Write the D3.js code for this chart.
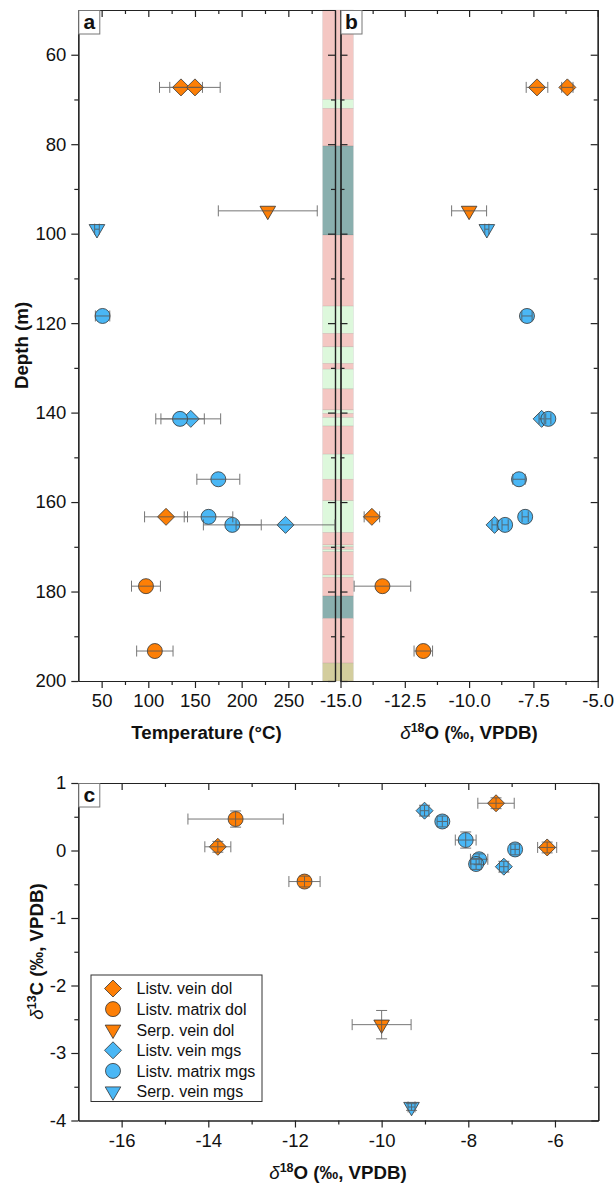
<!DOCTYPE html>
<html>
<head>
<meta charset="utf-8">
<script src="https://cdn.jsdelivr.net/npm/d3@7"></script>
<style>
  body { margin: 0; background: #fff; }
  svg text { font-family: "Liberation Sans", Arial, sans-serif; fill: #111; }
</style>
</head>
<body>
<div class="chart"></div>
<script>
// ---- data ----
var typeNames = ["Listv. vein dol", "Listv. matrix dol", "Serp. vein dol",
                 "Listv. vein mgs", "Listv. matrix mgs", "Serp. vein mgs"];
var typeColor = ["orange", "orange", "orange", "blue", "blue", "blue"];
var typeShape = ["diamond", "circle", "triangle", "diamond", "circle", "triangle"];

// one entry per sample
var sampleType = [0, 0, 0, 1, 1, 2, 5, 3, 3, 4, 4, 4, 4, 4];
var depth      = [67.3, 67.3, 163.3, 178.8, 193.3, 94.9, 99.0, 141.4, 165.1, 118.4, 141.4, 154.9, 163.3, 165.1];
var d18O       = [-7.36, -6.18, -13.78, -13.37, -11.78, -10.0, -9.31, -7.18, -9.01, -7.75, -6.92, -8.06, -7.82, -8.60];
var d18Oerr    = [0.42, 0.22, 0.30, 1.10, 0.36, 0.68, 0.08, 0.10, 0.10, 0.20, 0.10, 0.24, 0.12, 0.12];
var d13C       = [0.70, 0.045, 0.055, 0.466, -0.46, -2.58, -3.80, -0.24, 0.59, -0.13, 0.016, 0.155, -0.20, 0.43];
var d13Cerr    = [0.08, 0.08, 0.08, 0.12, 0.08, 0.21, 0.05, 0.08, 0.08, 0.08, 0.08, 0.12, 0.08, 0.08];
var temp       = [135, 150, 119, 97.5, 107, 228, 45, 145.5, 247, 51, 134, 175, 164.5, 190];
var tempErr    = [23, 27, 23, 15.5, 19.5, 53, 2.5, 32, 53, 7.7, 26, 23, 26, 31];

// lithology column (depth intervals)
var lithoTop  = [50, 70, 72, 80.4, 100.3, 116.2, 122.3, 125.3, 129, 130.3, 134.7, 139.4, 140.2, 141.1, 143, 149.3, 154.9, 159.7, 166.8, 169.6, 170, 170.6, 171.1, 176.3, 176.8, 181, 186, 196];
var lithoBase = [70, 72, 80.4, 100.3, 116.2, 122.3, 125.3, 129, 130.3, 134.7, 139.4, 140.2, 141.1, 143, 149.3, 154.9, 159.7, 166.8, 169.6, 170, 170.6, 171.1, 176.3, 176.8, 181, 186, 196, 200];
var lithoType = ["pink", "green", "pink", "teal", "pink", "green", "pink", "green", "pink", "green", "pink", "green", "pink", "green", "pink", "green", "pink", "green", "pink", "green", "pink", "green", "pink", "green", "pink", "teal", "pink", "olive"];

// ticks
var depthTicks = [60, 80, 100, 120, 140, 160, 180, 200];
var depthMinor = [70, 90, 110, 130, 150, 170, 190];
var tempTicks = [50, 100, 150, 200, 250];
var tempMinor = [75, 125, 175, 225, 275];
var oTicksB = [-15, -12.5, -10, -7.5, -5];
var oMinorB = [-13.75, -11.25, -8.75, -6.25];
var oTicksC = [-16, -14, -12, -10, -8, -6];
var oMinorC = [-15, -13, -11, -9, -7];
var cTicks = [1, 0, -1, -2, -3, -4];
var cMinor = [0.5, -0.5, -1.5, -2.5, -3.5];

// ---- styles ----
var colors = { orange: "#fd7f06", blue: "#4ab7f5" };
var lithoFill = { pink: "#f4c7c3", green: "#ddf8dc", teal: "#8aafae", olive: "#d3cd9d" };
var tickFont = 18.5, titleFont = 18.7;

var svg = d3.select(".chart").append("svg")
  .attr("width", 614)
  .attr("height", 1184);

// scales
var yDepth = d3.scaleLinear().domain([50, 200]).range([10, 681]);
var xTemp = d3.scaleLinear().domain([25, 300]).range([78.3, 335]);
var xO = d3.scaleLinear().domain([-15, -5]).range([340.5, 597.7]);
var xC = d3.scaleLinear().domain([-17, -5]).range([78.3, 598.3]);
var yC = d3.scaleLinear().domain([-4, 1]).range([1120.5, 783]);

var samples = sampleType.map(function (t, i) {
  return { type: t, depth: depth[i], o: d18O[i], oErr: d18Oerr[i],
           c: d13C[i], cErr: d13Cerr[i], t: temp[i], tErr: tempErr[i] };
});

function shapePath(shape) {
  if (shape === "diamond") return "M0,-8.5L8.5,0L0,8.5L-8.5,0Z";
  if (shape === "triangle") return "M-7.8,-4.6L7.8,-4.6L0,8.8Z";
  return "M7.5,0A7.5,7.5 0 1,1 -7.5,0A7.5,7.5 0 1,1 7.5,0Z";
}

function styleAxis(g) {
  g.selectAll("path, line").attr("stroke", "#222").attr("stroke-width", 1.2);
  g.selectAll("text").attr("font-size", tickFont).attr("fill", "#111")
    .style("font-family", "'Liberation Sans', Arial, sans-serif");
}

function noLabel() { return ""; }
function plain(d) { return String(d); }

// ---- lithology strip ----
var strip = svg.append("g");
strip.selectAll("rect")
  .data(lithoType)
  .enter()
  .append("rect")
  .attr("x", 322.7)
  .attr("width", 30.6)
  .attr("y", function (d, i) { return yDepth(lithoTop[i]); })
  .attr("height", function (d, i) { return yDepth(lithoBase[i]) - yDepth(lithoTop[i]); })
  .attr("fill", function (d) { return lithoFill[d]; })
  .attr("stroke", "rgba(0,0,0,0.12)")
  .attr("stroke-width", 0.6);

// ---- panel a & b axes ----
function depthAxes(x, dir, labels) {
  var major = (dir === "left" ? d3.axisLeft(yDepth) : d3.axisRight(yDepth))
    .tickValues(depthTicks).tickSize(7).tickSizeOuter(0).tickPadding(5)
    .tickFormat(labels ? plain : noLabel);
  var minor = (dir === "left" ? d3.axisLeft(yDepth) : d3.axisRight(yDepth))
    .tickValues(depthMinor).tickSize(4).tickSizeOuter(0).tickFormat(noLabel);
  svg.append("g").attr("transform", `translate(${x},0)`).call(major).call(styleAxis);
  svg.append("g").attr("transform", `translate(${x},0)`).call(minor).call(styleAxis);
}
depthAxes(78.3, "left", true);
depthAxes(335, "left", false);
depthAxes(340.5, "right", false);
depthAxes(597.7, "left", false);

function hAxis(scale, y, major, minor, fmt) {
  var g1 = svg.append("g").attr("transform", `translate(0,${y})`)
    .call(d3.axisBottom(scale).tickValues(major).tickSize(7).tickSizeOuter(0)
      .tickPadding(6).tickFormat(fmt));
  var g2 = svg.append("g").attr("transform", `translate(0,${y})`)
    .call(d3.axisBottom(scale).tickValues(minor).tickSize(4).tickSizeOuter(0).tickFormat(noLabel));
  styleAxis(g1); styleAxis(g2);
}
// bottom axes (ticks outward)
hAxis(xTemp, 681, tempTicks, tempMinor, plain);
hAxis(xO, 681, oTicksB, oMinorB, function (d) { return d.toFixed(1); });
// top axes (ticks inward)
hAxis(xTemp, 10, tempTicks, tempMinor, noLabel);
hAxis(xO, 10, oTicksB, oMinorB, noLabel);

// ---- panel c axes ----
styleAxis(svg.append("g").attr("transform", "translate(78.3,0)")
  .call(d3.axisLeft(yC).tickValues(cTicks).tickSize(7).tickSizeOuter(0).tickPadding(5).tickFormat(plain)));
styleAxis(svg.append("g").attr("transform", "translate(78.3,0)")
  .call(d3.axisLeft(yC).tickValues(cMinor).tickSize(4).tickSizeOuter(0).tickFormat(noLabel)));
styleAxis(svg.append("g").attr("transform", "translate(598.3,0)")
  .call(d3.axisLeft(yC).tickValues(cTicks).tickSize(7).tickSizeOuter(0).tickFormat(noLabel)));
styleAxis(svg.append("g").attr("transform", "translate(598.3,0)")
  .call(d3.axisLeft(yC).tickValues(cMinor).tickSize(4).tickSizeOuter(0).tickFormat(noLabel)));
hAxis(xC, 1120.5, oTicksC, oMinorC, plain);
hAxis(xC, 783, oTicksC, oMinorC, noLabel);

// ---- markers + error bars ----
function drawPoints(data, xf, yf, xe, ye) {
  var g = svg.append("g");
  g.selectAll("path.mark")
    .data(data)
    .enter()
    .append("path")
    .attr("class", "mark")
    .attr("d", function (d) { return shapePath(typeShape[d.type]); })
    .attr("transform", function (d) { return `translate(${xf(d)},${yf(d)})`; })
    .attr("fill", function (d) { return colors[typeColor[d.type]]; })
    .attr("stroke", "#333")
    .attr("stroke-width", 0.8);

  // error bars sit on top of the markers, like in the original
  var eb = g.append("g").attr("stroke", "#555").attr("stroke-width", 1).attr("opacity", 0.8).attr("fill", "none");
  data.forEach(function (d) {
    var cx = xf(d), cy = yf(d);
    if (xe) {
      var x0 = xe(d)[0], x1 = xe(d)[1];
      eb.append("path").attr("d", `M${x0},${cy}H${x1}M${x0},${cy - 5.5}V${cy + 5.5}M${x1},${cy - 5.5}V${cy + 5.5}`);
    }
    if (ye) {
      var y0 = ye(d)[0], y1 = ye(d)[1];
      eb.append("path").attr("d", `M${cx},${y0}V${y1}M${cx - 5.5},${y0}H${cx + 5.5}M${cx - 5.5},${y1}H${cx + 5.5}`);
    }
  });
}

// panel a
drawPoints(samples,
  function (d) { return xTemp(d.t); },
  function (d) { return yDepth(d.depth); },
  function (d) { return [xTemp(d.t - d.tErr), xTemp(d.t + d.tErr)]; },
  null);
// panel b
drawPoints(samples,
  function (d) { return xO(d.o); },
  function (d) { return yDepth(d.depth); },
  function (d) { return [xO(d.o - d.oErr), xO(d.o + d.oErr)]; },
  null);
// panel c
drawPoints(samples,
  function (d) { return xC(d.o); },
  function (d) { return yC(d.c); },
  function (d) { return [xC(d.o - d.oErr), xC(d.o + d.oErr)]; },
  function (d) { return [yC(d.c - d.cErr), yC(d.c + d.cErr)]; });

// ---- panel letters ----
function panelLetter(x, y, letter) {
  svg.append("rect").attr("x", x).attr("y", y).attr("width", 21).attr("height", 23.5)
    .attr("fill", "#fff").attr("stroke", "#777").attr("stroke-width", 1);
  svg.append("text").attr("x", x + 10.5).attr("y", y + 18.5)
    .attr("text-anchor", "middle").attr("font-size", 21).attr("font-weight", "bold").text(letter);
}
panelLetter(78.8, 10.5, "a");
panelLetter(341, 10.5, "b");
panelLetter(78.8, 783.5, "c");

// ---- axis titles ----
svg.append("text").attr("x", 206.5).attr("y", 739).attr("text-anchor", "middle")
  .attr("font-size", titleFont).attr("font-weight", "bold").text("Temperature (°C)");

function deltaTitle(el, iso, elem) {
  el.append("tspan").attr("font-style", "italic").attr("font-weight", "normal").text("δ");
  el.append("tspan").attr("font-size", 12.5).attr("dy", -7).text(iso);
  el.append("tspan").attr("dy", 7).text(elem + " (‰, VPDB)");
}
deltaTitle(svg.append("text").attr("x", 469).attr("y", 739).attr("text-anchor", "middle")
  .attr("font-size", titleFont).attr("font-weight", "bold"), "18", "O");
deltaTitle(svg.append("text").attr("x", 338).attr("y", 1179).attr("text-anchor", "middle")
  .attr("font-size", titleFont).attr("font-weight", "bold"), "18", "O");

svg.append("text").attr("transform", "rotate(-90)")
  .attr("x", -345.5).attr("y", 28).attr("text-anchor", "middle")
  .attr("font-size", titleFont).attr("font-weight", "bold").text("Depth (m)");
deltaTitle(svg.append("text").attr("transform", "rotate(-90)")
  .attr("x", -951.5).attr("y", 43).attr("text-anchor", "middle")
  .attr("font-size", titleFont).attr("font-weight", "bold"), "13", "C");

// ---- legend ----
var legend = svg.append("g");
legend.append("rect").attr("x", 91).attr("y", 975).attr("width", 171).attr("height", 126.5)
  .attr("fill", "#fff").attr("stroke", "#333").attr("stroke-width", 1);
var legendY = d3.scaleLinear().domain([0, 5]).range([988.5, 1091.5]);
typeNames.forEach(function (name, i) {
  legend.append("path").attr("d", shapePath(typeShape[i]))
    .attr("transform", `translate(113,${legendY(i)})`)
    .attr("fill", colors[typeColor[i]]).attr("stroke", "#333").attr("stroke-width", 0.8);
  legend.append("text").attr("x", 136.5).attr("y", legendY(i) + 5.8)
    .attr("font-size", 16).text(name);
});
</script>
</body>
</html>
